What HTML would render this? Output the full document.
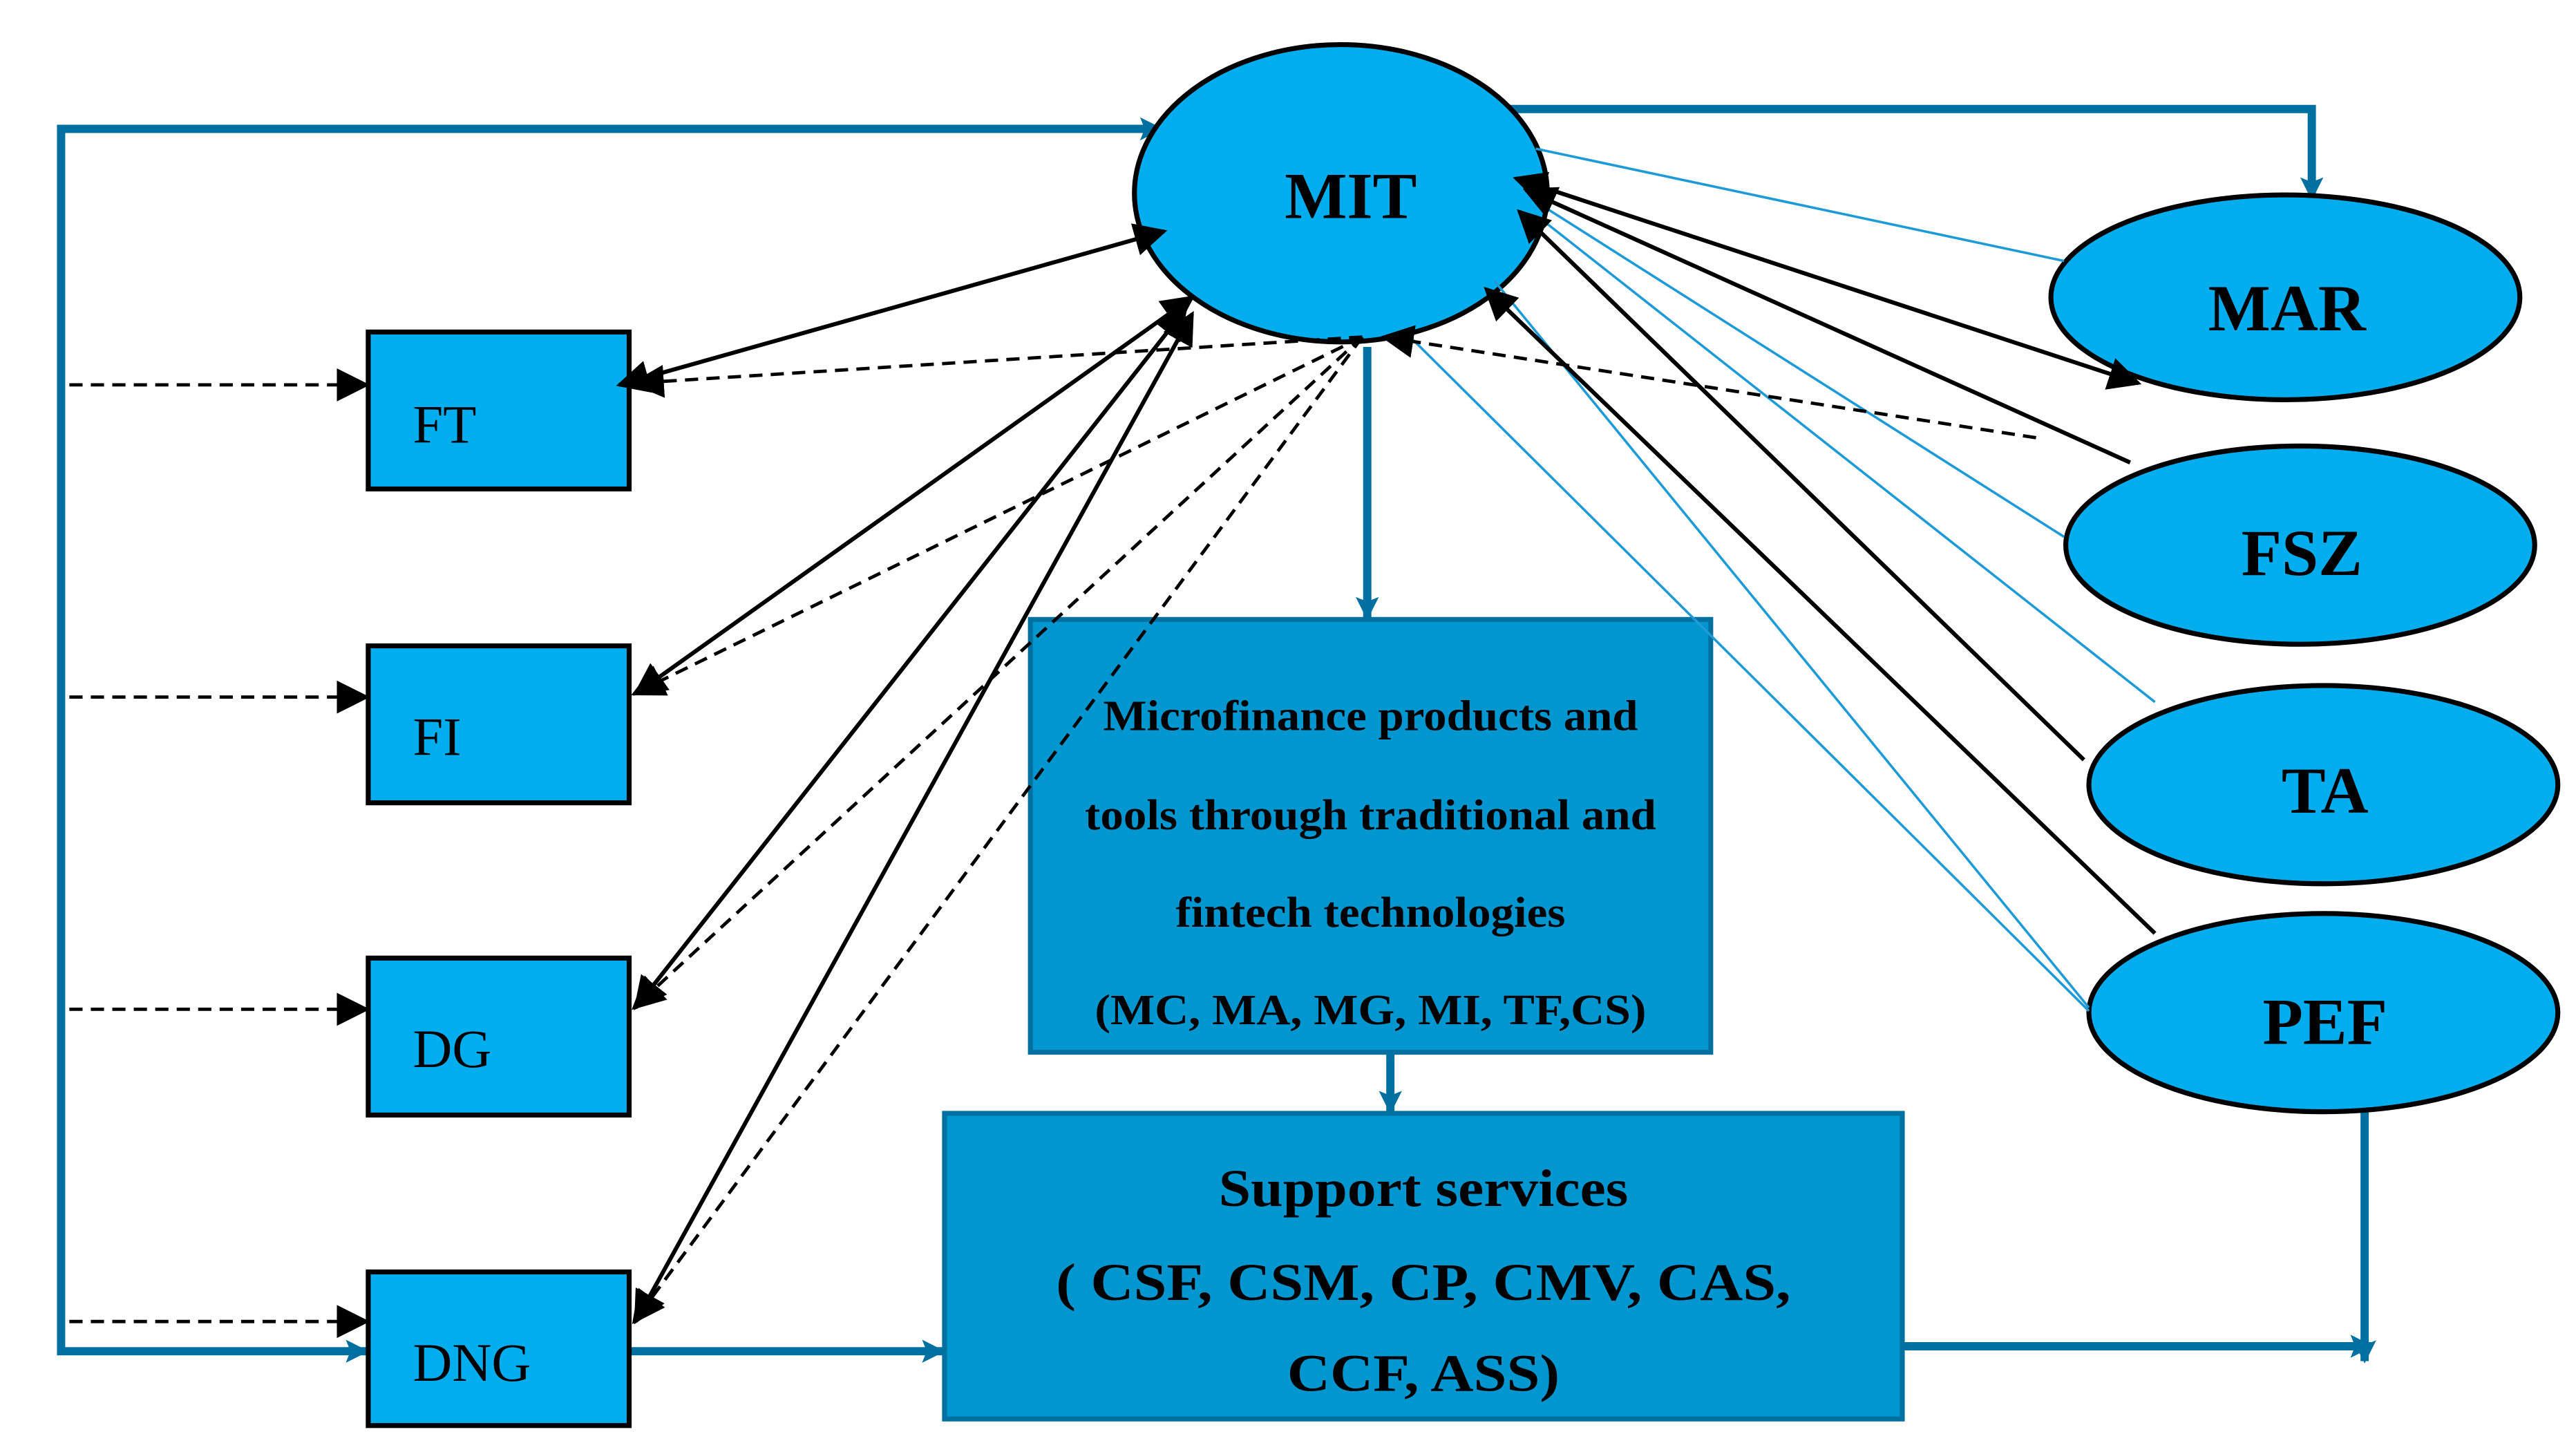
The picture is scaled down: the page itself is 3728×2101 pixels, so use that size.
<!DOCTYPE html>
<html><head><meta charset="utf-8"><style>html,body{margin:0;padding:0;background:#fff}svg{display:block}</style></head>
<body>
<svg width="3728" height="2101" viewBox="0 0 1560 879" preserveAspectRatio="none" xmlns="http://www.w3.org/2000/svg" font-family="Liberation Serif, serif">
<defs>
<marker id="ab" viewBox="0 0 10 10" refX="9" refY="5" markerWidth="20" markerHeight="20" orient="auto-start-reverse" markerUnits="userSpaceOnUse"><path d="M0,0L10,5L0,10z" fill="#000"/></marker>
<marker id="bl" viewBox="0 0 10 10" refX="9" refY="5" markerWidth="14" markerHeight="18" orient="auto" markerUnits="userSpaceOnUse"><path d="M0,0L10,5L0,10L2,5z" fill="#0070A0"/></marker>
</defs>
<g fill="none" stroke="#0070A0" stroke-width="5">
<polyline points="705,78 37,78 37,818 222,818" marker-end="url(#bl)"/>
<line x1="35" y1="78" x2="703" y2="78" marker-end="url(#bl)"/>
<polyline points="907,66 1400,66 1400,120" marker-end="url(#bl)"/>
<line x1="828" y1="210" x2="828" y2="374" marker-end="url(#bl)"/>
<line x1="842" y1="638" x2="842" y2="673" marker-end="url(#bl)"/>
<line x1="381" y1="818" x2="571" y2="818" marker-end="url(#bl)"/>
<line x1="1152" y1="815" x2="1436" y2="815" marker-end="url(#bl)"/>
<line x1="1432" y1="673" x2="1432" y2="824" marker-end="url(#bl)"/>
</g>
<g fill="#00AEEF" stroke="#000" stroke-width="3">
<ellipse cx="812" cy="117" rx="125" ry="90"/>
<ellipse cx="1384" cy="180" rx="142" ry="62"/>
<ellipse cx="1393" cy="330" rx="142" ry="60"/>
<ellipse cx="1407" cy="475" rx="142" ry="60"/>
<ellipse cx="1407" cy="613" rx="142" ry="60"/>
<rect x="223" y="201" width="158" height="95"/>
<rect x="223" y="391" width="158" height="95"/>
<rect x="223" y="580" width="158" height="95"/>
<rect x="223" y="770" width="158" height="93"/>
</g>
<g fill="#0096D0" stroke="#0070A0" stroke-width="3">
<rect x="624" y="375" width="412" height="262"/>
<rect x="572" y="674" width="580" height="185"/>
</g>
<g stroke="#1E9BD7" stroke-width="1.5">
<line x1="930" y1="90" x2="1250" y2="158"/>
<line x1="930" y1="122" x2="1250" y2="325"/>
<line x1="930" y1="130" x2="1305" y2="425"/>
<line x1="905" y1="170" x2="1265" y2="610"/>
<line x1="855" y1="205" x2="1265" y2="612"/>
</g>
<g stroke="#000" stroke-width="2.5" fill="none">
<line x1="375" y1="233" x2="705" y2="140" marker-start="url(#ab)" marker-end="url(#ab)"/>
<line x1="385" y1="420" x2="722" y2="180" marker-start="url(#ab)" marker-end="url(#ab)"/>
<line x1="385" y1="610" x2="718" y2="187" marker-start="url(#ab)" marker-end="url(#ab)"/>
<line x1="385" y1="800" x2="722" y2="190" marker-start="url(#ab)" marker-end="url(#ab)"/>
<line x1="918" y1="108" x2="1295" y2="232" marker-start="url(#ab)" marker-end="url(#ab)"/>
<line x1="1290" y1="280" x2="924" y2="115" marker-end="url(#ab)"/>
<line x1="1262" y1="460" x2="920" y2="128" marker-end="url(#ab)"/>
<line x1="1305" y1="565" x2="900" y2="175" marker-end="url(#ab)"/>
</g>
<g stroke="#000" stroke-width="2" fill="none" stroke-dasharray="8,5">
<line x1="42" y1="233" x2="222" y2="233" marker-end="url(#ab)"/>
<line x1="42" y1="422" x2="222" y2="422" marker-end="url(#ab)"/>
<line x1="42" y1="611" x2="222" y2="611" marker-end="url(#ab)"/>
<line x1="42" y1="800" x2="222" y2="800" marker-end="url(#ab)"/>
<line x1="825" y1="204" x2="384" y2="232" marker-end="url(#ab)"/>
<line x1="825" y1="204" x2="384" y2="420" marker-end="url(#ab)"/>
<line x1="825" y1="204" x2="384" y2="610" marker-end="url(#ab)"/>
<line x1="825" y1="204" x2="384" y2="800" marker-end="url(#ab)"/>
<line x1="1233" y1="265" x2="838" y2="204" marker-end="url(#ab)"/>
</g>
<g font-weight="bold" text-anchor="middle" fill="#000">
<text x="818" y="132" font-size="40">MIT</text>
<text x="1385" y="200" font-size="40">MAR</text>
<text x="1394" y="348" font-size="40">FSZ</text>
<text x="1408" y="492" font-size="40">TA</text>
<text x="1408" y="632" font-size="40">PEF</text>
<text x="830" y="442" font-size="26" textLength="324" lengthAdjust="spacingAndGlyphs">Microfinance products and</text>
<text x="830" y="502" font-size="26" textLength="346" lengthAdjust="spacingAndGlyphs">tools through traditional and</text>
<text x="830" y="561" font-size="26" textLength="236" lengthAdjust="spacingAndGlyphs">fintech technologies</text>
<text x="830" y="620" font-size="26" textLength="334" lengthAdjust="spacingAndGlyphs">(MC, MA, MG, MI, TF,CS)</text>
<text x="862" y="730" font-size="32" textLength="248" lengthAdjust="spacingAndGlyphs">Support services</text>
<text x="862" y="787" font-size="32" textLength="445" lengthAdjust="spacingAndGlyphs">( CSF, CSM, CP, CMV, CAS,</text>
<text x="862" y="842" font-size="32" textLength="165" lengthAdjust="spacingAndGlyphs">CCF, ASS)</text>
</g>
<g font-size="33" fill="#000">
<text x="250" y="268">FT</text>
<text x="250" y="457">FI</text>
<text x="250" y="646">DG</text>
<text x="250" y="836">DNG</text>
</g>
</svg>
</body></html>
